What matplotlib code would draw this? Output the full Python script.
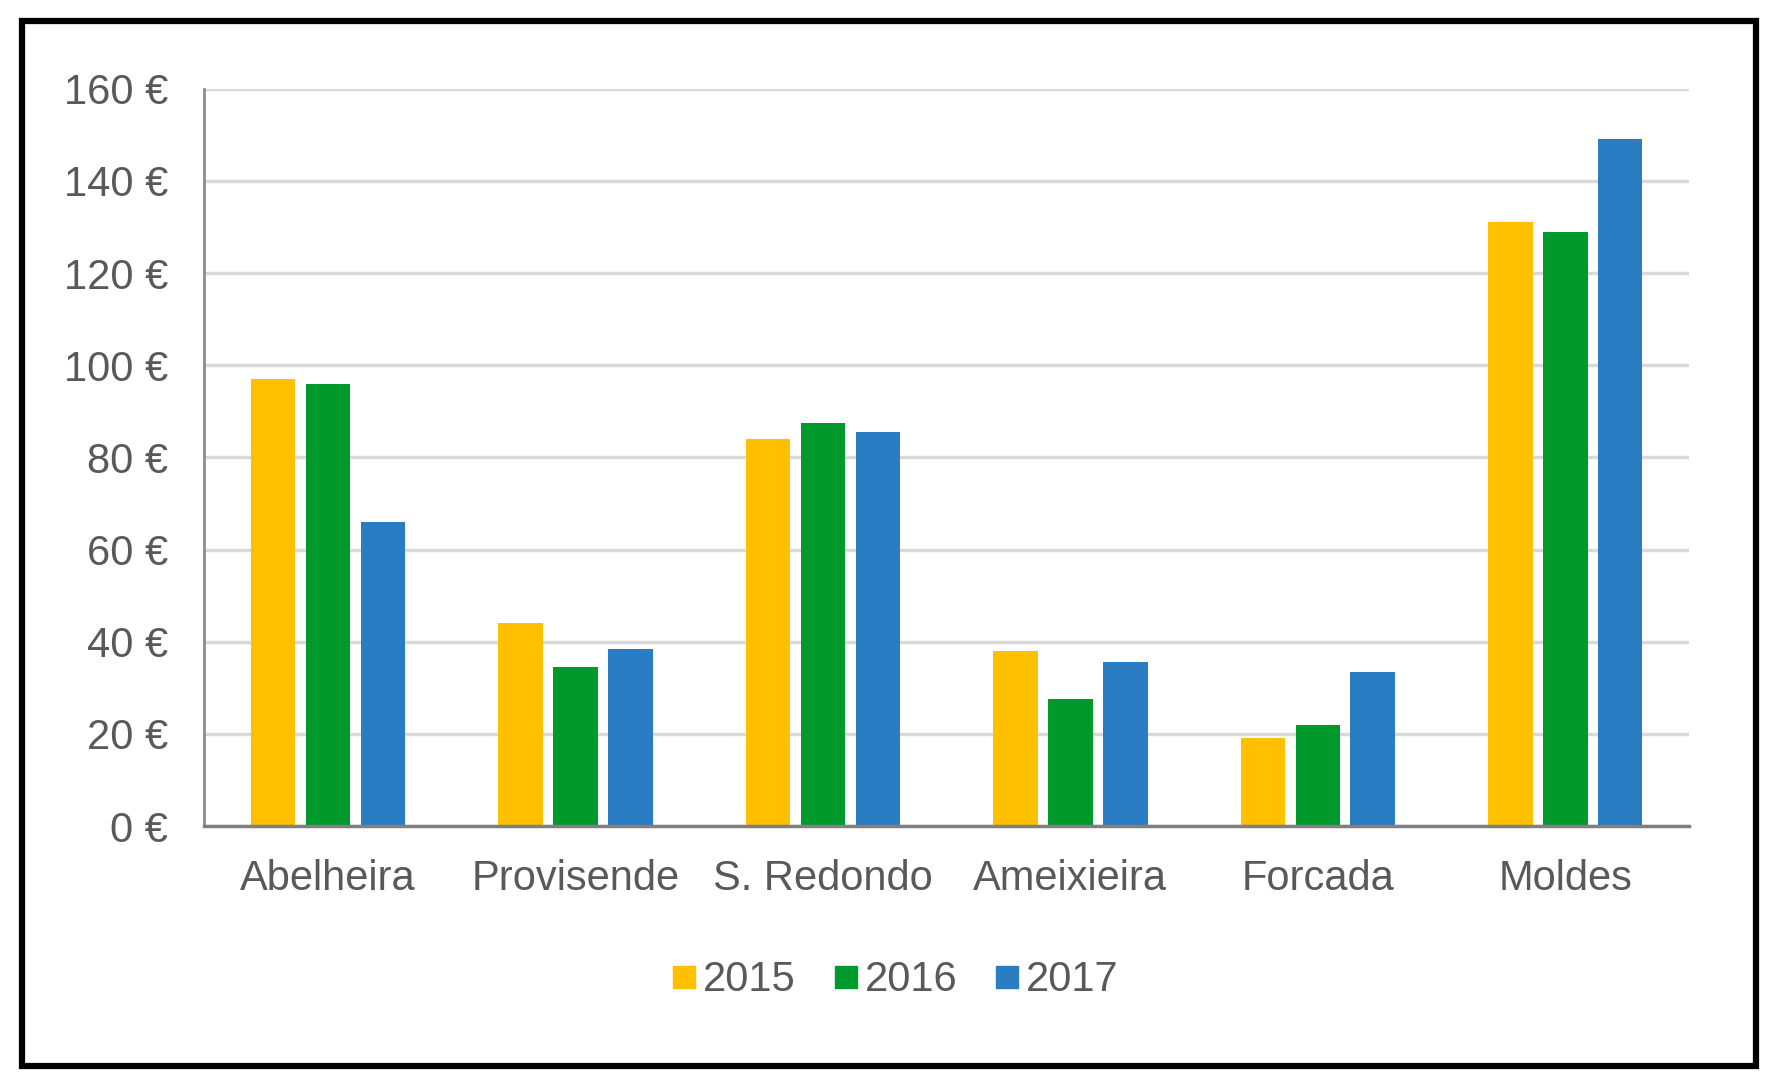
import matplotlib.pyplot as plt
from matplotlib.lines import Line2D
from matplotlib.patches import Rectangle
import numpy as np

plt.rcParams["font.family"] = ["Liberation Sans", "DejaVu Sans"]

# data
places = ["Abelheira", "Provisende", "S. Redondo", "Ameixieira", "Forcada", "Moldes"]
years = ["2015", "2016", "2017"]
v2015 = [97, 44, 84, 38, 19, 131]
v2016 = [96, 34.5, 87.5, 27.5, 22, 129]
v2017 = [66, 38.5, 85.5, 35.5, 33.5, 149]
colors = ["#FFC000", "#00992B", "#2B7DC3"]

fig = plt.figure(figsize=(17.76, 10.89), dpi=100)
ax = fig.add_axes([0.115, 0.2415, 0.836, 0.677])

x = np.arange(len(places))
width = 0.18
step = 0.222
for i, vals in enumerate([v2015, v2016, v2017]):
    ax.bar(x + (i - 1) * step, vals, width, color=colors[i], zorder=3)

ax.set_xlim(-0.5, len(places) - 0.5)
ax.set_ylim(0, 160)
ax.set_yticks(range(0, 161, 20))
ax.set_yticklabels([f"{v} €" for v in range(0, 161, 20)])
ax.set_xticks(x)
ax.set_xticklabels(places)
ax.tick_params(axis="both", length=0, labelsize=30, labelcolor="#595959")
ax.tick_params(axis="x", pad=24)
ax.tick_params(axis="y", pad=26)

ax.grid(axis="y", color="#D9D9D9", linewidth=2.5, zorder=0)
for s in ["top", "right"]:
    ax.spines[s].set_visible(False)
ax.spines["left"].set_color("#8C8C8C")
ax.spines["left"].set_linewidth(2)
ax.spines["bottom"].set_color("#808080")
ax.spines["bottom"].set_linewidth(2.5)
ax.spines["bottom"].set_zorder(4)

handles = [Line2D([], [], marker="s", linestyle="none", markersize=16,
                  markerfacecolor=c, markeredgecolor=c) for c in colors]
fig.legend(handles, years, loc="center", bbox_to_anchor=(0.503, 0.1), ncol=3,
           frameon=False, fontsize=30, labelcolor="#595959",
           handletextpad=0.05, columnspacing=0.8, handlelength=0.8)

# black frame around the chart
fig.patches.append(Rectangle((0.0125, 0.021), 0.976, 0.96, transform=fig.transFigure,
                             fill=False, edgecolor="black", linewidth=4.5))

fig.savefig("out.png", dpi=100, facecolor="white")
